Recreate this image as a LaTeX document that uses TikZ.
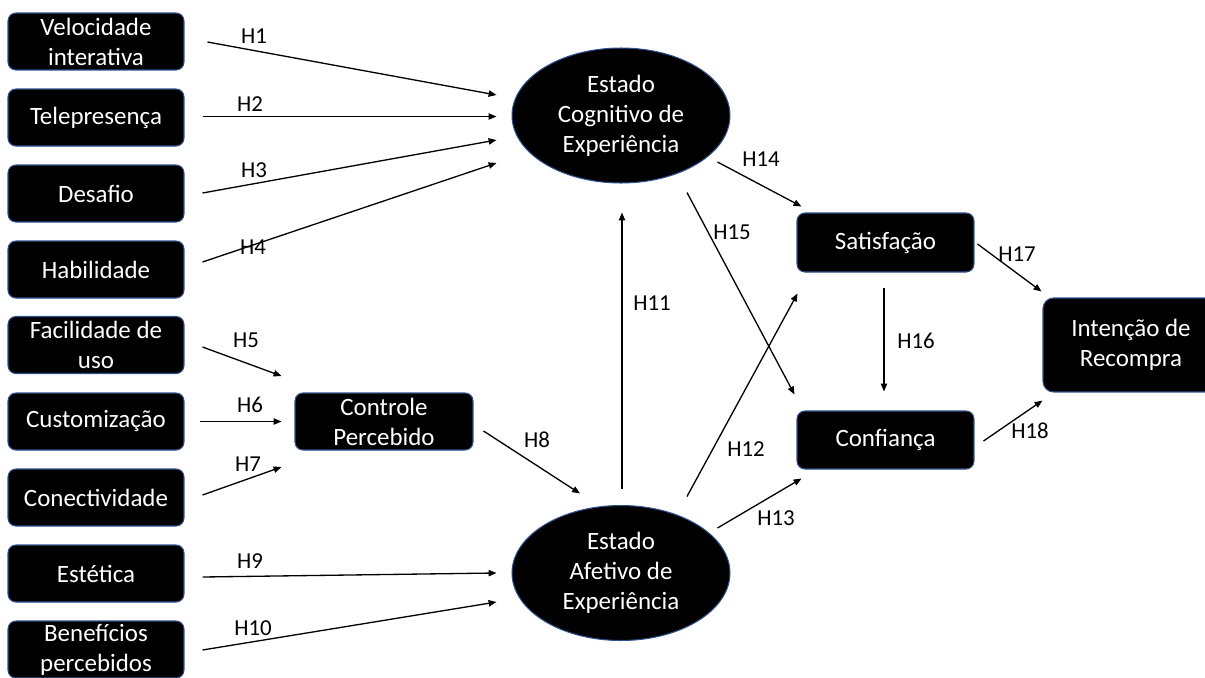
\documentclass[tikz,border=0pt]{standalone}
\usepackage{fontspec}
\setmainfont{Carlito}
\usetikzlibrary{arrows.meta,shapes.geometric}
\definecolor{boxline}{RGB}{47,82,143}

\begin{document}
\begin{tikzpicture}[x=0.02cm,y=-0.02cm,
	box/.style={draw=boxline,line width=0.6pt,fill=black,text=white,rounded corners=4.5pt,
		minimum width=3.52cm,minimum height=1.14cm,align=center,inner sep=1pt,
		font=\fontsize{14.2}{17}\selectfont},
	oval/.style={ellipse,draw=boxline,line width=0.6pt,fill=black,text=white,
		minimum width=4.36cm,minimum height=2.7cm,align=center,inner sep=0pt,
		font=\fontsize{14.2}{17}\selectfont},
	lbl/.style={text=black,inner sep=0pt,font=\fontsize{13}{15}\selectfont},
	arr/.style={-{Triangle[length=4.5pt,width=3.6pt]},line width=0.75pt},]

	\useasboundingbox (0,0) rectangle (1205,677);

	% left column
	\node [box] (vi) at (96,41.5) {Velocidade\\interativa};
	\node [box] (tp) at (96,117.5) {Telepresença};
	\node [box] (de) at (96,193.5) {Desafio};
	\node [box] (hb) at (96,269.5) {Habilidade};
	\node [box] (fu) at (96,345) {Facilidade de\\uso};
	\node [box] (cu) at (96,421.5) {Customização};
	\node [box] (co) at (96,497.5) {Conectividade};
	\node [box] (es) at (96,573.5) {Estética};
	\node [box] (bp) at (96,649.5) {Benefícios\\percebidos};

	% middle and right
	\node [box,minimum width=3.56cm] (cp) at (384,421.5) {Controle\\Percebido};
	\node [oval] (ec) at (621,115.5) {Estado\\Cognitivo de\\Experiência};
	\node [oval] (ea) at (621,573) {Estado\\Afetivo de\\Experiência};
	\node [box,minimum width=3.54cm,minimum height=1.18cm] (sa) at (885.5,242.5) {Satisfação};
	\node [box,minimum width=3.54cm,minimum height=1.16cm] (cf) at (885.5,440) {Confiança};
	\node [box,minimum height=1.88cm,rounded corners=6pt] (ir) at (1131,345) {Intenção de\\Recompra};

	\draw [arr] ([shift={(23,0.5)}]vi.east) -- ([shift={(-15,-20.5)}]ec.west);
	\draw [arr] ([shift={(18,-1)}]tp.east) -- ([shift={(-15,1)}]ec.west);
	\draw [arr] ([shift={(18,-0.5)}]de.east) -- ([shift={(-15,24.5)}]ec.west);
	\draw [arr] ([shift={(18,-7.5)}]hb.east) -- ([shift={(-15,47.5)}]ec.west);
	\draw [arr] ([shift={(18,2)}]fu.east) -- ([shift={(-13,-45.5)}]cp.west);
	\draw [arr] ([shift={(15,0)}]cu.east) -- ([shift={(-13,0)}]cp.west);
	\draw [arr] ([shift={(18,-2.5)}]co.east) -- ([shift={(-13,45.5)}]cp.west);
	\draw [arr] ([shift={(10,9.5)}]cp.east) -- ([shift={(-41,-11.5)}]ea.north);
	\draw [arr] ([shift={(18,3.5)}]es.east) -- ([shift={(-15,0)}]ea.west);
	\draw [arr] ([shift={(18,0.5)}]bp.east) -- ([shift={(-15,29)}]ea.west);
	\draw [arr] ([shift={(1,-15.5)}]ea.north) -- ([shift={(1,29)}]ec.south);
	\draw [arr] ([shift={(66,-8.5)}]ea.north) -- ([shift={(1,21)}]sa.south west);
	\draw [arr] ([shift={(-13,-45)}]ea.east) -- ([shift={(5,9)}]cf.south west);
	\draw [arr] ([shift={(-13,46.5)}]ec.east) -- ([shift={(5,-6)}]sa.north west);
	\draw [arr] ([shift={(66,9)}]ec.south) -- ([shift={(-2,-16)}]cf.north west);
	\draw [arr] ([shift={(-1.5,15)}]sa.south) -- ([shift={(-1.5,-19)}]cf.north);
	\draw [arr] ([shift={(3,1.5)}]sa.east) -- ([shift={(-1,-6)}]ir.north west);
	\draw [arr] ([shift={(9,1)}]cf.east) -- ([shift={(0,8)}]ir.south west);

	% hypothesis labels
	\node [lbl] (h1) at (254,36) {H1};
	\node [lbl] (h2) at (250,104) {H2};
	\node [lbl] (h3) at (254,170) {H3};
	\node [lbl] (h4) at (253,247) {H4};
	\node [lbl] (h5) at (246,340) {H5};
	\node [lbl] (h6) at (250,405) {H6};
	\node [lbl] (h7) at (248,464) {H7};
	\node [lbl] (h8) at (537,440) {H8};
	\node [lbl] (h9) at (250,561) {H9};
	\node [lbl] (h10) at (253,628) {H10};
	\node [lbl] (h11) at (652,303) {H11};
	\node [lbl] (h12) at (746,449) {H12};
	\node [lbl] (h13) at (776,518) {H13};
	\node [lbl] (h14) at (761,159) {H14};
	\node [lbl] (h15) at (732,232) {H15};
	\node [lbl] (h16) at (916,341) {H16};
	\node [lbl] (h17) at (1017,254) {H17};
	\node [lbl] (h18) at (1030,431) {H18};
\end{tikzpicture}
\end{document}
